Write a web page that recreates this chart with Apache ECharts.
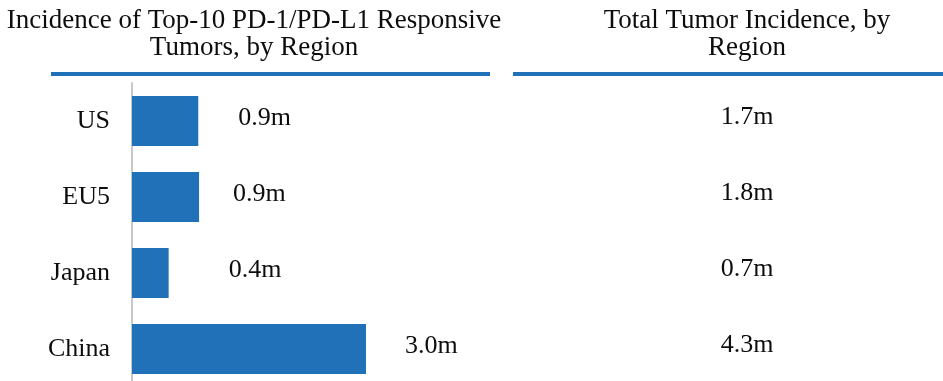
<!DOCTYPE html>
<html>
<head>
<meta charset="utf-8">
<script src="https://cdn.jsdelivr.net/npm/echarts@6/dist/echarts.min.js"></script>
<style>
html,body{margin:0;padding:0;background:#fff;}
#chart{width:943px;height:381px;}
</style>
</head>
<body>
<div id="chart"></div>
<script>
const regions = ['US', 'EU5', 'Japan', 'China'];
const responsiveIncidence = [0.85, 0.86, 0.47, 3.0];
const responsiveLabels = ['0.9m', '0.9m', '0.4m', '3.0m'];
const totalIncidence = [1.7, 1.8, 0.7, 4.3];
const titleLeft = 'Incidence of Top-10 PD-1/PD-L1 Responsive\nTumors, by Region';
const titleRight = 'Total Tumor Incidence, by\nRegion';

const FONT = '"Liberation Serif", "Times New Roman", serif';
const BLUE = '#2171b9';
const TEXT = '#0d0d0d';
const labelGap = {US: 40, EU5: 34, Japan: 60, China: 39};

const chart = echarts.init(document.getElementById('chart'));
chart.setOption({
  animation: false,
  backgroundColor: '#fff',
  grid: [
    {left: 132, top: 83, width: 234, height: 304, outerBoundsMode: 'none', containLabel: false},
    {left: 551, top: 83, right: 0, height: 304, outerBoundsMode: 'none', containLabel: false}
  ],
  xAxis: [
    {type: 'value', gridIndex: 0, min: 0, max: 3.0, show: false},
    {type: 'value', gridIndex: 1, min: 0, max: 1, show: false}
  ],
  yAxis: [
    {type: 'category', gridIndex: 0, data: regions, inverse: true,
     axisLine: {show: true, lineStyle: {color: '#c8c8c8', width: 2}},
     axisTick: {show: false}, splitLine: {show: false},
     axisLabel: {fontFamily: FONT, fontSize: 26, color: TEXT, margin: 22}},
    {type: 'category', gridIndex: 1, data: regions, inverse: true, show: false}
  ],
  series: [
    {type: 'bar', xAxisIndex: 0, yAxisIndex: 0, barCategoryGap: '34%',
     itemStyle: {color: BLUE},
     data: responsiveIncidence.map((v, i) => ({
       value: v,
       label: {show: true, position: 'right', distance: labelGap[regions[i]],
               offset: [0, -3], formatter: responsiveLabels[i],
               fontFamily: FONT, fontSize: 26, color: TEXT}
     }))},
    {type: 'scatter', xAxisIndex: 1, yAxisIndex: 1, symbol: 'circle', symbolSize: 1,
     itemStyle: {color: 'rgba(255,255,255,0)', opacity: 1},
     label: {show: true, position: 'inside', offset: [0, -4],
             formatter: p => p.value[2].toFixed(1) + 'm',
             fontFamily: FONT, fontSize: 26, color: TEXT, opacity: 1},
     data: totalIncidence.map((v, i) => [0.5, regions[i], v])}
  ],
  graphic: [
    {type: 'text', x: 254, y: 7, style: {text: titleLeft, align: 'center', verticalAlign: 'top',
      font: '27px ' + FONT, lineHeight: 27, fill: TEXT}},
    {type: 'text', x: 747, y: 7, style: {text: titleRight, align: 'center', verticalAlign: 'top',
      font: '27px ' + FONT, lineHeight: 27, fill: TEXT}},
    {type: 'line', shape: {x1: 51, y1: 74, x2: 490, y2: 74}, style: {stroke: BLUE, lineWidth: 4}},
    {type: 'line', shape: {x1: 513, y1: 74, x2: 943, y2: 74}, style: {stroke: BLUE, lineWidth: 4}}
  ]
});
</script>
</body>
</html>
